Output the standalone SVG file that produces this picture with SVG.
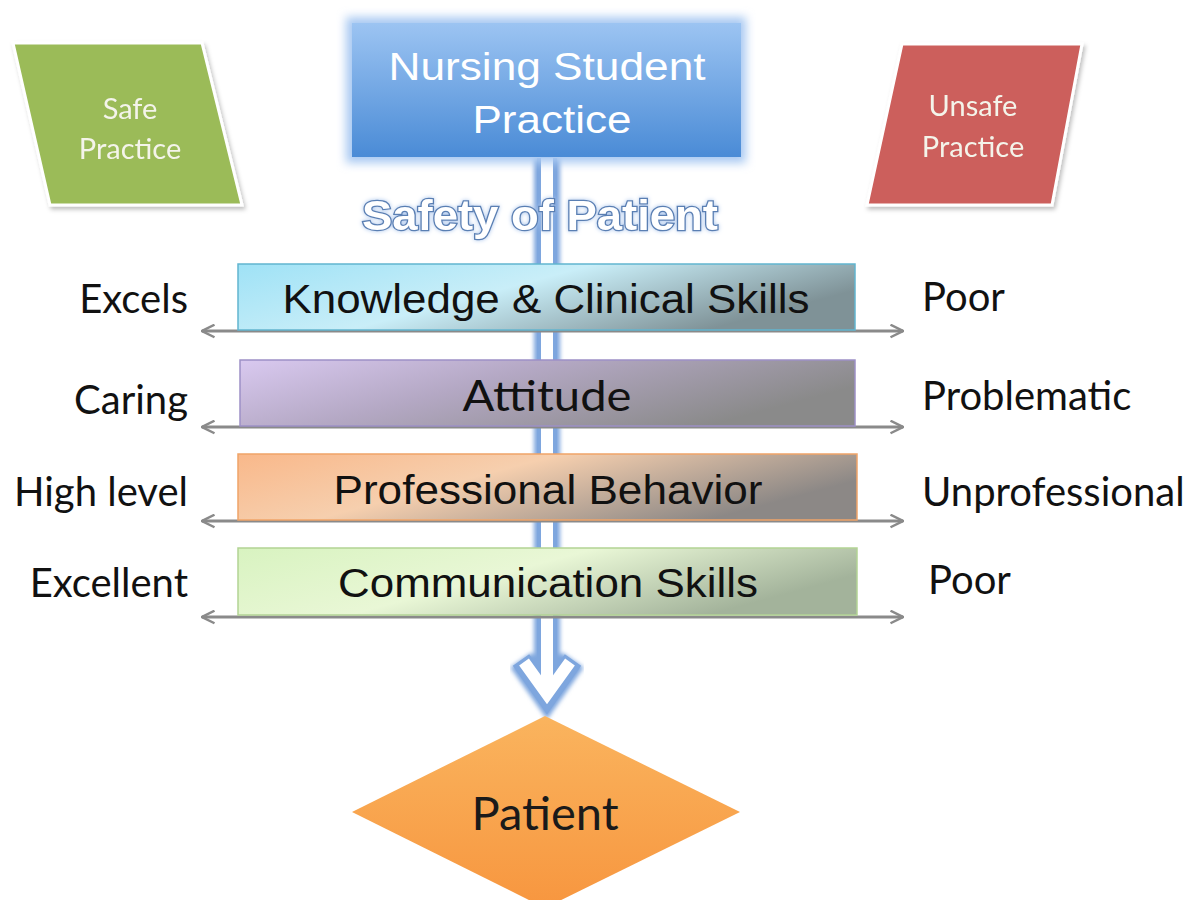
<svg xmlns="http://www.w3.org/2000/svg" width="1199" height="900" viewBox="0 0 1199 900">
<style>
.lbl{font-family:Lato,"Open Sans","Liberation Sans",sans-serif;font-size:40px;fill:#111}
.box-t{font-family:"Liberation Sans",Arial,sans-serif;font-size:40px;fill:#111;text-anchor:middle}
.par-t{font-family:Lato,"Open Sans",sans-serif;font-size:29px;fill:#f4f4ea;text-anchor:middle}
.conn{stroke:#8a8a8a;stroke-width:3;fill:none;marker-start:url(#ah);marker-end:url(#ah)}
</style>
<defs>
<marker id="ah" viewBox="0 0 12 12" refX="11" refY="6" markerWidth="5" markerHeight="5" markerUnits="strokeWidth" orient="auto-start-reverse">
<path d="M1,1 L11,6 L1,11" fill="none" stroke="#8a8a8a" stroke-width="2"/>
</marker>
<filter id="blur4" x="-20%" y="-20%" width="140%" height="140%"><feGaussianBlur stdDeviation="5"/></filter>
<filter id="blur2" x="-20%" y="-5%" width="140%" height="110%"><feGaussianBlur stdDeviation="2"/></filter>
<filter id="glow" x="-10%" y="-30%" width="120%" height="160%"><feGaussianBlur in="SourceAlpha" stdDeviation="2" result="b"/><feFlood flood-color="#a8c4ec"/><feComposite in2="b" operator="in" result="g"/><feMerge><feMergeNode in="g"/><feMergeNode in="SourceGraphic"/></feMerge></filter>
<filter id="shadow" x="-10%" y="-10%" width="130%" height="130%"><feDropShadow dx="2" dy="3" stdDeviation="2" flood-color="#000" flood-opacity="0.25"/></filter>
<linearGradient id="gTop" x1="0" y1="0" x2="0" y2="1"><stop offset="0" stop-color="#9cc4f2"/><stop offset="1" stop-color="#4a8bd6"/></linearGradient>
<linearGradient id="g1" x1="0" y1="0" x2="1" y2="0.4"><stop offset="0" stop-color="#9fe2f6"/><stop offset="0.5" stop-color="#c9eef8"/><stop offset="1" stop-color="#7f9297"/></linearGradient>
<linearGradient id="g2" x1="0" y1="0" x2="1" y2="0.4"><stop offset="0" stop-color="#d9c9f0"/><stop offset="0.45" stop-color="#b4a8c4"/><stop offset="1" stop-color="#8a8a8a"/></linearGradient>
<linearGradient id="g3" x1="0" y1="0" x2="1" y2="0.4"><stop offset="0" stop-color="#f9b88a"/><stop offset="0.45" stop-color="#f6cfae"/><stop offset="1" stop-color="#8c8886"/></linearGradient>
<linearGradient id="g4" x1="0" y1="0" x2="1" y2="0.4"><stop offset="0" stop-color="#d8f3c0"/><stop offset="0.5" stop-color="#e9f7d6"/><stop offset="1" stop-color="#a3b39b"/></linearGradient>
<linearGradient id="gD" x1="0" y1="0" x2="0" y2="1"><stop offset="0" stop-color="#fab45e"/><stop offset="1" stop-color="#f7963f"/></linearGradient>
</defs>
<rect width="1199" height="900" fill="#ffffff"/>

<g id="safe-practice" filter="url(#shadow)">
<polygon points="13,43 202,43 242,205 50,205" fill="#9bbb59" stroke="#ffffff" stroke-width="3"/>
<text class="par-t" x="130" y="119">Safe</text>
<text class="par-t" x="130" y="159">Practice</text>
</g>
<g id="unsafe-practice" filter="url(#shadow)">
<polygon points="902,44 1082,44 1052,205 867,205" fill="#cc5e5b" stroke="#ffffff" stroke-width="3"/>
<text class="par-t" x="973" y="116">Unsafe</text>
<text class="par-t" x="973" y="157">Practice</text>
</g>

<g id="flow-arrow">
<path d="M547,158 V696 M521,660 L547,697 L573,660" fill="none" stroke="#7ea6de" stroke-width="26" stroke-linejoin="miter" filter="url(#blur2)"/>
<path d="M547,158 V696 M521,660 L547,697 L573,660" fill="none" stroke="#7ea6de" stroke-width="20" stroke-linejoin="miter"/>
<path d="M547,158 V692 M524,662 L547,694 L570,662" fill="none" stroke="#ffffff" stroke-width="12" stroke-linejoin="miter"/>
</g>

<g id="nursing-student-practice">
<rect x="346" y="17" width="400" height="146" fill="#a9c9f2" filter="url(#blur4)"/>
<rect x="352" y="23" width="389" height="134" fill="url(#gTop)"/>
<text x="547" y="80" font-family="Liberation Sans,Arial,sans-serif" font-size="39" fill="#ffffff" text-anchor="middle" textLength="317" lengthAdjust="spacingAndGlyphs">Nursing Student</text>
<text x="552" y="133" font-family="Liberation Sans,Arial,sans-serif" font-size="39" fill="#ffffff" text-anchor="middle" textLength="159" lengthAdjust="spacingAndGlyphs">Practice</text>
</g>

<g id="safety-of-patient" filter="url(#glow)">
<text x="540" y="230" font-family="Liberation Sans,Arial,sans-serif" font-weight="bold" font-size="42" fill="#ffffff" stroke="#5a7fb3" stroke-width="2.5" text-anchor="middle" style="paint-order:stroke" textLength="356" lengthAdjust="spacingAndGlyphs">Safety of Patient</text>
</g>

<g id="connectors">
<line class="conn" x1="202" y1="331" x2="903" y2="331"/>
<line class="conn" x1="202" y1="427" x2="903" y2="427"/>
<line class="conn" x1="202" y1="521" x2="903" y2="521"/>
<line class="conn" x1="202" y1="617" x2="903" y2="617"/>
</g>

<g id="knowledge">
<rect x="238" y="264" width="617" height="66" fill="url(#g1)" stroke="#62b5cf" stroke-width="1.5"/>
<text class="box-t" x="546" y="313" textLength="527" lengthAdjust="spacingAndGlyphs">Knowledge &amp; Clinical Skills</text>
</g>
<g id="attitude">
<rect x="240" y="360" width="615" height="66" fill="url(#g2)" stroke="#9d90c6" stroke-width="1.5"/>
<text x="547" y="411" font-family="Lato,'Open Sans',sans-serif" font-size="42" fill="#111" text-anchor="middle" textLength="169" lengthAdjust="spacingAndGlyphs">Attitude</text>
</g>
<g id="professional">
<rect x="238" y="454" width="619" height="66" fill="url(#g3)" stroke="#f0a468" stroke-width="1.5"/>
<text class="box-t" x="548" y="504" textLength="429" lengthAdjust="spacingAndGlyphs">Professional Behavior</text>
</g>
<g id="communication">
<rect x="238" y="548" width="619" height="67" fill="url(#g4)" stroke="#b2d394" stroke-width="1.5"/>
<text class="box-t" x="548" y="597" textLength="420" lengthAdjust="spacingAndGlyphs">Communication Skills</text>
</g>

<g id="left-labels">
<text class="lbl" x="188" y="313" text-anchor="end">Excels</text>
<text class="lbl" x="188" y="414" text-anchor="end">Caring</text>
<text class="lbl" x="188" y="506" text-anchor="end">High level</text>
<text class="lbl" x="188" y="597" text-anchor="end">Excellent</text>
</g>
<g id="right-labels">
<text class="lbl" x="922" y="311">Poor</text>
<text class="lbl" x="922" y="410">Problematic</text>
<text class="lbl" x="922" y="506">Unprofessional</text>
<text class="lbl" x="928" y="594">Poor</text>
</g>

<g id="patient">
<polygon points="545,716 740,812 545,908 352,812" fill="url(#gD)"/>
<text x="545" y="830" font-family="Lato,'Open Sans',sans-serif" font-size="47" fill="#1a1a1a" text-anchor="middle">Patient</text>
</g>
</svg>
